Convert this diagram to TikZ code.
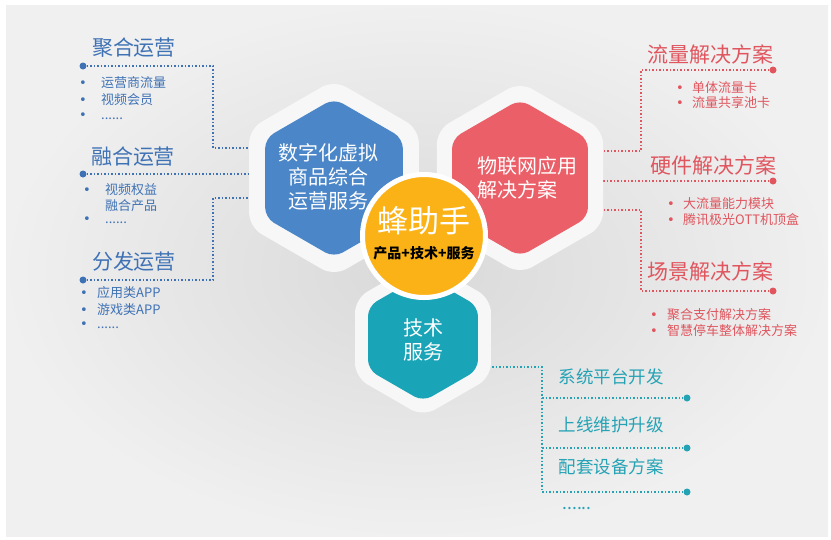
\documentclass[tikz,border=0pt]{standalone}
\usepackage{fontspec}
\newfontfamily\cjk{Noto Sans CJK SC}
\newfontfamily\symf{DejaVu Sans}
\usepackage{xcolor}
\usepackage{tikz}
\usetikzlibrary{shapes.geometric, positioning, calc}

\definecolor{hexblue}{HTML}{4A86C8}
\definecolor{hexred}{HTML}{EA5F68}
\definecolor{hexteal}{HTML}{19A4B7}
\definecolor{hexgold}{HTML}{FBB216}
\definecolor{txtblue}{HTML}{3F72B5}
\definecolor{txtred}{HTML}{E0555E}
\definecolor{txtteal}{HTML}{25A3B5}

% bullet line: width of the bullet box, then the text
\newcommand{\bitem}[2][18pt]{\makebox[#1][l]{\symf\textbullet}#2}

\tikzset{
  hexa/.style={regular polygon, regular polygon sides=6, shape border rotate=30,
    inner sep=0pt, rounded corners=10pt},
  halo/.style={hexa, fill=white!97!black, rounded corners=14pt},
  hextext/.style={text=white, align=center, font=\cjk\fontsize{20}{24}\selectfont},
  ltitle/.style={text=#1, font=\cjk\fontsize{21}{25}\selectfont},
  litem/.style={text=#1, anchor=west, inner sep=0pt, align=left,
    font=\cjk\fontsize{13}{16}\selectfont},
  bdot/.style={circle, fill=#1, inner sep=0pt, minimum size=7pt},
  dline/.style={#1, dotted, line width=1.5pt}
}

\begin{document}
\begin{tikzpicture}[x=1pt, y=-1pt, font=\cjk]
  % background panel
  \path[use as bounding box, fill=white] (0,0) rectangle (831,539);
  \shade[inner color=black!15, outer color=black!6] (6,5) rectangle (828,536);

  % left: operations
  \node[ltitle=txtblue] (jhyy) at (134,48) {聚合运营};
  \node[bdot=txtblue] (d1) at (83,66) {};
  \coordinate (j1) at (213,148);
  \coordinate (e1) at (255,148);
  \draw[dline=txtblue] (d1) -| (j1) -- (e1);
  \node[litem=txtblue] (jh1) at (79,83) {\bitem[22pt]{运营商流量}};
  \node[litem=txtblue] (jh2) at (79,100) {\bitem[22pt]{视频会员}};
  \node[litem=txtblue] (jh3) at (79,116) {\bitem[22pt]{......}};

  \node[ltitle=txtblue] (rhyy) at (133,157) {融合运营};
  \node[bdot=txtblue] (d2) at (83,174) {};
  \coordinate (e2) at (255,174);
  \draw[dline=txtblue] (d2) -- (e2);
  \node[litem=txtblue] (rh1) at (83,190) {\bitem[22pt]{视频权益}};
  \node[litem=txtblue] (rh2) at (105,206) {融合产品};
  \node[litem=txtblue] (rh3) at (83,220) {\bitem[22pt]{......}};

  \node[ltitle=txtblue] (ffyy) at (134,262) {分发运营};
  \node[bdot=txtblue] (d3) at (83,280) {};
  \coordinate (j3) at (213,198);
  \coordinate (e3) at (255,198);
  \draw[dline=txtblue] (d3) -| (j3) -- (e3);
  \node[litem=txtblue] (ff1) at (80,293) {\bitem[17pt]{应用类APP}};
  \node[litem=txtblue] (ff2) at (80,310) {\bitem[17pt]{游戏类APP}};
  \node[litem=txtblue] (ff3) at (80,325) {\bitem[17pt]{......}};

  % right: solutions
  \node[ltitle=txtred] (llfa) at (710,54) {流量解决方案};
  \node[bdot=txtred] (r1) at (773,70) {};
  \coordinate (k1) at (641,151);
  \coordinate (f1) at (595,151);
  \draw[dline=txtred] (r1) -| (k1) -- (f1);
  \node[litem=txtred] (ll1) at (676,88) {\bitem[16pt]{单体流量卡}};
  \node[litem=txtred] (ll2) at (676,103) {\bitem[16pt]{流量共享池卡}};

  \node[ltitle=txtred] (yjfa) at (713,165) {硬件解决方案};
  \node[bdot=txtred] (r2) at (773,181) {};
  \coordinate (f2) at (595,181);
  \draw[dline=txtred] (r2) -- (f2);
  \node[litem=txtred] (yj1) at (667,204) {\bitem[16pt]{大流量能力模块}};
  \node[litem=txtred] (yj2) at (667,220) {\bitem[16pt]{腾讯极光OTT机顶盒}};

  \node[ltitle=txtred] (cjfa) at (710,271) {场景解决方案};
  \node[bdot=txtred] (r3) at (773,291) {};
  \coordinate (k3) at (641,210);
  \coordinate (f3) at (595,210);
  \draw[dline=txtred] (r3) -| (k3) -- (f3);
  \node[litem=txtred] (cj1) at (650,315) {\bitem[17pt]{聚合支付解决方案}};
  \node[litem=txtred] (cj2) at (650,331) {\bitem[17pt]{智慧停车整体解决方案}};

  % bottom: tech services
  \coordinate (ts) at (485,367);
  \coordinate (tj) at (542,367);
  \node[bdot=txtteal] (t1) at (687,398) {};
  \node[bdot=txtteal] (t2) at (687,448) {};
  \node[bdot=txtteal] (t3) at (687,492) {};
  \draw[dline=txtteal] (ts) -- (tj) |- (t3);
  \draw[dline=txtteal] (tj |- t1) -- (t1);
  \draw[dline=txtteal] (tj |- t2) -- (t2);
  \node[text=txtteal, font=\cjk\fontsize{17.5}{20}\selectfont] (xt) at (611,377) {系统平台开发};
  \node[text=txtteal, font=\cjk\fontsize{17.5}{20}\selectfont] (sx) at (611,425) {上线维护升级};
  \node[text=txtteal, font=\cjk\fontsize{17.5}{20}\selectfont] (pt) at (611,467) {配套设备方案};
  \node[text=txtteal, font=\cjk\fontsize{17.5}{20}\selectfont] (gd) at (577,509) {......};

  % hexagons with white halos
  \node[halo, minimum size=196pt] (bluehalo) at (334,178) {};
  \node[halo, minimum size=192pt] (redhalo) at (520,178) {};
  \node[halo, minimum size=157pt] (tealhalo) at (423,338) {};
  \node[hexa, fill=hexblue, minimum size=159pt] (blue) at (334,178) {};
  \node[hexa, fill=hexred, minimum size=157pt] (red) at (520,178) {};
  \node[hexa, fill=hexteal, minimum size=127pt] (teal) at (423,338) {};
  \node[hextext] (bluetxt) at (328,177) {数字化虚拟\\商品综合\\运营服务};
  \node[hextext, align=left] (redtxt) at (527,178) {物联网应用\\解决方案};
  \node[hextext] (tealtxt) at (423,340) {技术\\服务};

  % centre
  \node[circle, fill=hexgold, draw=white, line width=5pt, minimum size=123pt] (core) at (424,236) {};
  \node[text=white, font=\cjk\fontsize{31}{34}\selectfont] (corename) at (424,221) {蜂助手};
  \node[text=black, font=\cjk\bfseries\fontsize{14}{16}\selectfont] (coresub) at (424,253) {产品+技术+服务};
\end{tikzpicture}
\end{document}
